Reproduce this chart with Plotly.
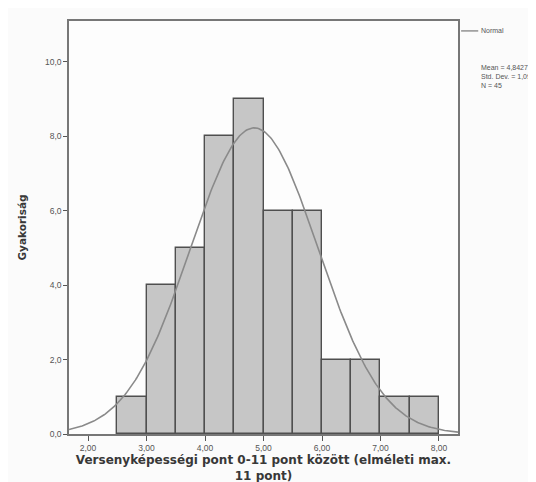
import numpy as np
import plotly.graph_objects as go

bin_left = [2.5, 3.0, 3.5, 4.0, 4.5, 5.0, 5.5, 6.0, 6.5, 7.0, 7.5]
counts = [1, 4, 5, 8, 9, 6, 6, 2, 2, 1, 1]
bin_width = 0.5
mean = 4.8427
sd = 1.091
n = 45
x_ticks = [2, 3, 4, 5, 6, 7, 8]
x_tick_labels = ["2,00", "3,00", "4,00", "5,00", "6,00", "7,00", "8,00"]
y_ticks = [0, 2, 4, 6, 8, 10]
y_tick_labels = ["0,0", "2,0", "4,0", "6,0", "8,0", "10,0"]

x_range = [1.675, 8.325]
y_range = [0, 11.1]
centers = [b + bin_width / 2 for b in bin_left]

xc = np.linspace(x_range[0], x_range[1], 300)
yc = n * bin_width / (sd * np.sqrt(2 * np.pi)) * np.exp(-0.5 * ((xc - mean) / sd) ** 2)

fig = go.Figure()
fig.add_trace(go.Bar(
    x=centers, y=counts, width=bin_width,
    marker=dict(color="#c6c6c6", line=dict(color="#4f4f4f", width=1.4)),
    showlegend=False,
))
fig.add_trace(go.Scatter(
    x=xc, y=yc, mode="lines", name="Normal",
    line=dict(color="#8a8a8a", width=1.6), showlegend=False,
))

fig.update_layout(
    width=536, height=482,
    margin=dict(l=61, r=86, t=13, b=56, autoexpand=False),
    paper_bgcolor="#fbfbfb", plot_bgcolor="#fdfdfd",
    font=dict(family="Liberation Sans, Arial", size=8, color="#555555"),
    bargap=0,
    xaxis=dict(
        range=x_range, tickvals=x_ticks, ticktext=x_tick_labels, automargin=False,
        showgrid=False, zeroline=False, ticks="outside", ticklen=5,
        tickcolor="#555555", tickwidth=1.3, showline=True, linecolor="#777777", linewidth=1.6,
        mirror=True, tickfont=dict(size=8.5, color="#555555"),
        title=dict(text="<b>Versenyképességi pont 0-11 pont között (elméleti max.<br>11 pont)</b>",
                   font=dict(family="DejaVu Sans", size=12, color="#383838"), standoff=4),
    ),
    yaxis=dict(
        range=y_range, tickvals=y_ticks, ticktext=y_tick_labels, automargin=False,
        showgrid=False, zeroline=False, ticks="outside", ticklen=4,
        tickcolor="#555555", tickwidth=1.3, showline=True, linecolor="#777777", linewidth=1.6,
        mirror=True, tickfont=dict(size=8.5, color="#555555"),
        title=dict(text="<b>Gyakoriság</b>", font=dict(family="DejaVu Sans", size=10.5, color="#383838"),
                   standoff=16),
    ),
    shapes=[dict(type="line", xref="paper", yref="paper", x0=1.008, x1=1.052,
                 y0=0.976, y1=0.976, line=dict(color="#8a8a8a", width=1.4))],
    annotations=[
        dict(xref="paper", yref="paper", x=1.054, y=0.976, xanchor="left", yanchor="middle",
             text="Normal", showarrow=False, font=dict(size=7, color="#555555")),
        dict(xref="paper", yref="paper", x=1.054, y=0.9, xanchor="left", yanchor="top",
             text="Mean = 4,8427<br>Std. Dev. = 1,091<br>N = 45", showarrow=False,
             align="left", font=dict(size=7, color="#555555")),
    ],
)

fig.write_html("out.html")
